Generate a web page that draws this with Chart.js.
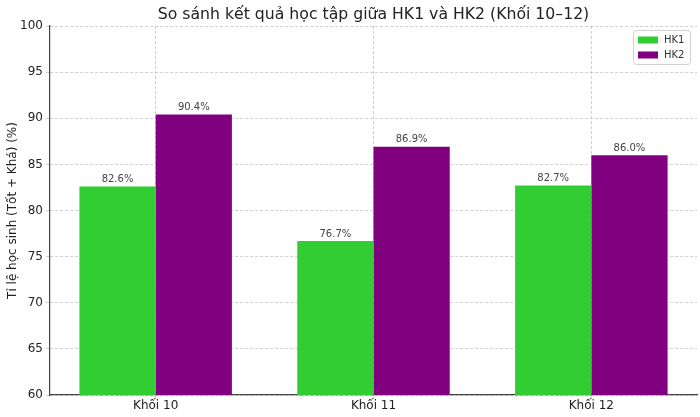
<!DOCTYPE html>
<html>
<head>
<meta charset="utf-8">
<script src="https://cdn.jsdelivr.net/npm/chart.js@4/dist/chart.umd.min.js"></script>
<style>
  html, body { margin: 0; padding: 0; background: #fff; }
  #wrap { width: 700px; height: 417px; }
</style>
</head>
<body>
<div id="wrap"><canvas id="c" width="700" height="417"></canvas></div>
<script>
const categories = ["Khối 10", "Khối 11", "Khối 12"];
const hk1Values = [82.6, 76.7, 82.7];
const hk2Values = [90.4, 86.9, 86.0];
const seriesLabels = ["HK1", "HK2"];
const titleText = "So sánh kết quả học tập giữa HK1 và HK2 (Khối 10–12)";
const yAxisTitle = "Tỉ lệ học sinh (Tốt + Khá) (%)";

const FONT = "'DejaVu Sans', sans-serif";
const GRID = "rgba(176,176,176,0.6)";

const toPoints = arr => arr.map((v, i) => ({ x: i, y: v }));

const valueLabels = {
  id: "valueLabels",
  afterDraw(chart) {
    const ctx = chart.ctx;
    ctx.save();
    ctx.font = "10px " + FONT;
    ctx.fillStyle = "#444";
    ctx.textAlign = "center";
    ctx.textBaseline = "bottom";
    chart.data.datasets.forEach((ds, i) => {
      const meta = chart.getDatasetMeta(i);
      meta.data.forEach((bar, j) => {
        ctx.fillText(ds.data[j].y.toFixed(1) + "%", bar.x, bar.y - 2);
      });
    });
    ctx.restore();
  }
};

const plotTitle = {
  id: "plotTitle",
  afterDraw(chart) {
    const ctx = chart.ctx;
    const area = chart.chartArea;
    ctx.save();
    ctx.font = "15.7px " + FONT;
    ctx.fillStyle = "#222";
    ctx.textAlign = "center";
    ctx.textBaseline = "middle";
    ctx.fillText(titleText, (area.left + area.right) / 2, 15);
    ctx.restore();
  }
};

const boxLegend = {
  id: "boxLegend",
  afterDraw(chart) {
    const ctx = chart.ctx;
    const area = chart.chartArea;
    const w = 57, h = 34;
    const x = area.right - w - 7, y = area.top + 4;
    ctx.save();
    ctx.fillStyle = "rgba(255,255,255,0.85)";
    ctx.strokeStyle = "#d0d0d0";
    ctx.lineWidth = 1;
    ctx.beginPath();
    if (ctx.roundRect) ctx.roundRect(x + 0.5, y + 0.5, w, h, 3); else ctx.rect(x + 0.5, y + 0.5, w, h);
    ctx.fill();
    ctx.stroke();
    ctx.font = "10px " + FONT;
    ctx.textBaseline = "middle";
    ctx.textAlign = "left";
    chart.data.datasets.forEach((ds, i) => {
      const cy = y + 10 + i * 15;
      ctx.fillStyle = ds.backgroundColor;
      ctx.fillRect(x + 5, cy - 3.5, 20, 7);
      ctx.fillStyle = "#333";
      ctx.fillText(ds.label, x + 31, cy);
    });
    ctx.restore();
  }
};

new Chart(document.getElementById("c"), {
  type: "bar",
  data: {
    datasets: [
      { label: seriesLabels[0], data: toPoints(hk1Values), backgroundColor: "#32CD32", borderWidth: 0 },
      { label: seriesLabels[1], data: toPoints(hk2Values), backgroundColor: "#800080", borderWidth: 0 }
    ]
  },
  options: {
    responsive: false,
    animation: false,
    devicePixelRatio: 1,
    layout: { padding: { left: 0, right: 3, top: 26, bottom: 0 } },
    datasets: { bar: { categoryPercentage: 0.7, barPercentage: 1.0 } },
    plugins: {
      legend: { display: false },
      tooltip: { enabled: false },
      title: { display: false }
    },
    scales: {
      x: {
        type: "linear",
        min: -0.485, max: 2.485,
        offset: false,
        z: 1,
        grid: { offset: false, color: GRID, tickLength: 4 },
        border: { display: true, color: "#444", width: 1.2, dash: [3, 2] },
        ticks: {
          stepSize: 1, includeBounds: false, autoSkip: false, maxRotation: 0,
          color: "#222", font: { family: FONT, size: 12 }, padding: 0,
          callback: v => categories[v] !== undefined && Number.isInteger(v) ? categories[v] : ""
        },
        afterFit(s) { s.height = 22; }
      },
      y: {
        min: 60, max: 100,
        z: 1,
        ticks: { stepSize: 5, color: "#222", font: { family: FONT, size: 12 }, padding: 3 },
        grid: { color: GRID, tickLength: 4 },
        border: { display: true, color: "#444", width: 1.2, dash: [3, 2] },
        title: { display: true, text: yAxisTitle, color: "#222", font: { family: FONT, size: 12 }, padding: { top: 6, bottom: 0 } },
        afterFit(s) { s.width = 50; }
      }
    }
  },
  plugins: [valueLabels, plotTitle, boxLegend]
});
</script>
</body>
</html>
